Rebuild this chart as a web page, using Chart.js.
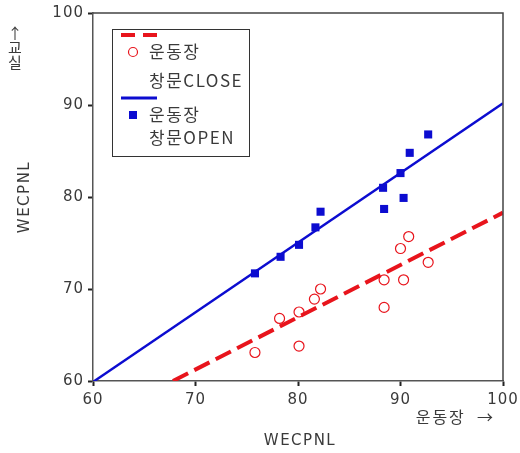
<!DOCTYPE html>
<html lang="ko">
<head>
    <meta charset="UTF-8">
    <title>WECPNL 운동장 / 교실</title>
    <style>
        body {
            margin: 0;
            padding: 0;
            background: #fff;
        }
        .chart-box {
            position: relative;
            width: 520px;
            height: 453px;
        }
    </style>
</head>
<body>
    <div class="chart-box">
        <canvas id="wecpnlChart" width="520" height="453"></canvas>
    </div>

<script src="https://cdn.jsdelivr.net/npm/chart.js"></script>
<script>
    // axis ticks
    const tickValues = [60, 70, 80, 90, 100];

    // 창문 CLOSE (red circles)
    const closeX = [75.8, 78.2, 80.1, 80.1, 81.6, 82.2, 88.4, 88.4, 90.0, 90.3, 90.8, 92.7];
    const closeY = [63.1, 66.8, 67.5, 63.8, 68.9, 70.0, 68.0, 71.0, 74.4, 71.0, 75.7, 72.9];

    // 창문 OPEN (blue squares)
    const openX = [75.8, 78.3, 80.1, 81.7, 82.2, 88.3, 88.4, 90.0, 90.3, 90.9, 92.7];
    const openY = [71.7, 73.5, 74.8, 76.7, 78.4, 81.0, 78.7, 82.6, 79.9, 84.8, 86.8];

    // fit lines, end points
    const closeFitX = [67.8, 100];
    const closeFitY = [60, 78.3];
    const openFitX = [60, 100];
    const openFitY = [59.9, 90.2];

    // legend texts
    const closeLabel = ['운동장', '창문CLOSE'];
    const openLabel = ['운동장', '창문OPEN'];

    const RED = '#e8141c';
    const BLUE = '#0c0cd0';
    const TEXT = '#3a3a3a';
    const NUM_FONT = '15px "DejaVu Sans", sans-serif';
    const KR_FONT = '16px "Noto Sans CJK KR", "DejaVu Sans", sans-serif';

    function toPoints(xs, ys) {
        return xs.map((x, i) => ({ x: x, y: ys[i] }));
    }

    // frame, legend box and axis titles
    const decorPlugin = {
        id: 'decor',
        beforeDraw(chart) {
            // wider tick labels like the original
            chart.ctx.letterSpacing = '1px';
        },
        afterDraw(chart) {
            const ctx = chart.ctx;
            const a = chart.chartArea;
            ctx.save();

            // top / right frame
            ctx.strokeStyle = '#444';
            ctx.lineWidth = 1.5;
            ctx.beginPath();
            ctx.moveTo(a.left, a.top);
            ctx.lineTo(a.right, a.top);
            ctx.lineTo(a.right, a.bottom);
            ctx.stroke();

            // legend box
            const lx = 112, ly = 29, lw = 137, lh = 127;
            ctx.fillStyle = '#fff';
            ctx.fillRect(lx, ly, lw, lh);
            ctx.strokeStyle = '#333';
            ctx.lineWidth = 1;
            ctx.strokeRect(lx + 0.5, ly + 0.5, lw, lh);

            // red dashed sample
            ctx.strokeStyle = RED;
            ctx.lineWidth = 4;
            ctx.setLineDash([14, 8]);
            ctx.beginPath();
            ctx.moveTo(121, 35);
            ctx.lineTo(158, 35);
            ctx.stroke();
            ctx.setLineDash([]);

            // red circle
            ctx.lineWidth = 1.2;
            ctx.beginPath();
            ctx.arc(133, 52, 4.5, 0, Math.PI * 2);
            ctx.stroke();

            // blue line sample
            ctx.strokeStyle = BLUE;
            ctx.lineWidth = 3;
            ctx.beginPath();
            ctx.moveTo(121, 98);
            ctx.lineTo(157, 98);
            ctx.stroke();

            // blue square
            ctx.fillStyle = BLUE;
            ctx.fillRect(129, 111, 8, 8);

            ctx.fillStyle = TEXT;
            ctx.font = '17px "Noto Sans CJK KR", "DejaVu Sans", sans-serif';
            ctx.letterSpacing = '1.5px';
            ctx.textAlign = 'left';
            ctx.textBaseline = 'middle';
            ctx.fillText(closeLabel[0], 149, 52);
            ctx.fillText(closeLabel[1], 149, 81);
            ctx.fillText(openLabel[0], 149, 115);
            ctx.fillText(openLabel[1], 149, 138);

            // x axis titles
            ctx.font = KR_FONT;
            ctx.letterSpacing = '2px';
            ctx.textAlign = 'right';
            ctx.fillText('운동장  →', 495, 417);
            ctx.textAlign = 'center';
            ctx.font = NUM_FONT;
            ctx.letterSpacing = '1.5px';
            ctx.fillText('WECPNL', 300, 441);

            // y axis titles
            ctx.save();
            ctx.translate(25, 197);
            ctx.rotate(-Math.PI / 2);
            ctx.fillText('WECPNL', 0, 0);
            ctx.restore();

            ctx.font = '15px "Noto Sans CJK KR", "DejaVu Sans", sans-serif';
            ctx.letterSpacing = '0px';
            ctx.fillText('↑', 15, 33);
            ctx.fillText('교', 15, 47);
            ctx.fillText('실', 15, 62);

            ctx.restore();
        }
    };

    const axisStyle = {
        min: 60,
        max: 100,
        afterBuildTicks: (scale) => {
            scale.ticks = tickValues.map(v => ({ value: v }));
        },
        grid: {
            drawOnChartArea: false,
            drawTicks: true,
            tickLength: 5,
            tickWidth: 2,
            tickColor: '#222'
        },
        border: {
            display: true,
            color: '#555',
            width: 1.5
        },
        ticks: {
            color: TEXT,
            font: { family: '"DejaVu Sans", sans-serif', size: 15 }
        }
    };

    const ctx = document.getElementById('wecpnlChart').getContext('2d');
    const chart = new Chart(ctx, {
        type: 'scatter',
        data: {
            datasets: [
                {
                    label: '창문CLOSE 회귀',
                    data: toPoints(closeFitX, closeFitY),
                    showLine: true,
                    borderColor: RED,
                    borderWidth: 4,
                    borderDash: [17, 7],
                    pointRadius: 0,
                    order: 2
                },
                {
                    label: '창문OPEN 회귀',
                    data: toPoints(openFitX, openFitY),
                    showLine: true,
                    borderColor: BLUE,
                    borderWidth: 2.5,
                    pointRadius: 0,
                    order: 2
                },
                {
                    label: '운동장 창문CLOSE',
                    data: toPoints(closeX, closeY),
                    pointStyle: 'circle',
                    pointRadius: 5,
                    borderColor: RED,
                    borderWidth: 1.2,
                    backgroundColor: 'rgba(255,255,255,0)',
                    order: 1
                },
                {
                    label: '운동장 창문OPEN',
                    data: toPoints(openX, openY),
                    pointStyle: 'rect',
                    pointRadius: 5.7,
                    borderWidth: 0,
                    backgroundColor: BLUE,
                    borderColor: BLUE,
                    order: 1
                }
            ]
        },
        options: {
            responsive: false,
            animation: false,
            layout: {
                padding: { left: 0, top: 13, right: 17, bottom: 0 }
            },
            plugins: {
                legend: { display: false },
                tooltip: { enabled: false }
            },
            scales: {
                x: Object.assign({}, axisStyle, {
                    type: 'linear',
                    afterFit: (scale) => {
                        scale.height = 72;
                        scale.paddingLeft = 0;
                        scale.paddingRight = 0;
                    },
                    ticks: Object.assign({}, axisStyle.ticks, { padding: 5, maxRotation: 0 })
                }),
                y: Object.assign({}, axisStyle, {
                    type: 'linear',
                    afterFit: (scale) => {
                        scale.width = 93;
                        scale.paddingTop = 0;
                        scale.paddingBottom = 0;
                    },
                    ticks: Object.assign({}, axisStyle.ticks, { padding: 4 })
                })
            }
        },
        plugins: [decorPlugin]
    });
</script>
</body>
</html>
